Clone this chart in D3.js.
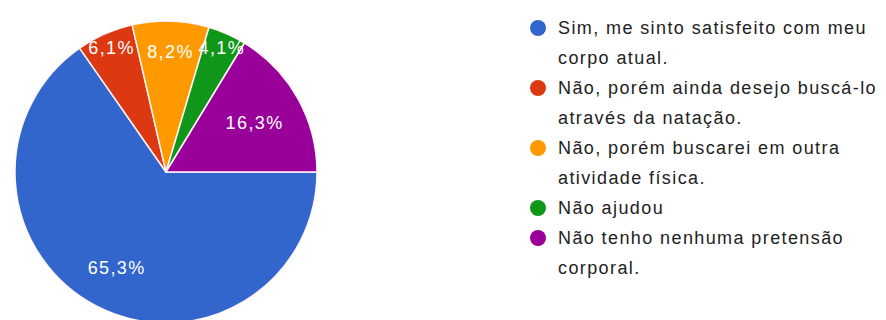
<!DOCTYPE html>
<html>
<head>
<meta charset="utf-8">
<script src="https://cdn.jsdelivr.net/npm/d3@7"></script>
<style>
  html, body { margin: 0; padding: 0; background: #ffffff; }
  svg { display: block; }
</style>
</head>
<body>
<svg id="chart" width="886" height="320"></svg>
<script>
// ---- data ----
const categories = [
  "Sim, me sinto satisfeito com meu\ncorpo atual.",
  "Não, porém ainda desejo buscá-lo\natravés da natação.",
  "Não, porém buscarei em outra\natividade física.",
  "Não ajudou",
  "Não tenho nenhuma pretensão\ncorporal."
];
const values = [65.3, 6.1, 8.2, 4.1, 16.3];
const valueLabels = ["65,3%", "6,1%", "8,2%", "4,1%", "16,3%"];
const colors = ["#3366cc", "#dc3912", "#ff9900", "#109618", "#990099"];

// ---- layout ----
const W = 886, H = 320;
const cx = 166, cy = 172, R = 151;
const font = "Arial, 'Liberation Sans', sans-serif";
const fontSize = 18;
const spacing = 1.4;

const svg = d3.select("#chart");
const color = d3.scaleOrdinal().domain(categories).range(colors);

const pie = d3.pie()
  .sort(null)
  .value(d => d.value)
  .startAngle(Math.PI / 2)
  .endAngle(Math.PI / 2 + 2 * Math.PI);

const data = categories.map((c, i) => ({ cat: c, value: values[i], label: valueLabels[i] }));
const arcs = pie(data);
const arc = d3.arc().innerRadius(0).outerRadius(R);

const g = svg.append("g").attr("transform", `translate(${cx},${cy})`);

g.selectAll("path.slice")
  .data(arcs)
  .enter().append("path")
  .attr("class", "slice")
  .attr("d", arc)
  .attr("fill", d => color(d.data.cat))
  .attr("stroke", "#fff4f8")
  .attr("stroke-width", 1.5)
  .attr("stroke-linejoin", "round");

// value labels
const labels = g.selectAll("text.val")
  .data(arcs)
  .enter().append("text")
  .attr("class", "val")
  .attr("font-family", font)
  .attr("font-size", fontSize)
  .attr("letter-spacing", spacing)
  .attr("fill", "#ffffff")
  .attr("text-anchor", "middle")
  .attr("dominant-baseline", "central")
  .text(d => d.data.label);

labels.each(function(d) {
  const bb = this.getBBox();
  const hw = bb.width / 2, hh = 7;
  const mid = (d.startAngle + d.endAngle) / 2;
  const dx = Math.sin(mid), dy = -Math.cos(mid);
  // place so the far corner of the label box sits at ~0.86R
  const target = 0.86 * R;
  const b = 2 * (Math.abs(dx) * hw + Math.abs(dy) * hh);
  const c = hw * hw + hh * hh - target * target;
  let t = (-b + Math.sqrt(b * b - 4 * c)) / 2;
  // if the label doesn't fit the wedge, push it outward
  const theta = d.endAngle - d.startAngle;
  const chord = 2 * t * Math.sin(theta / 2);
  if (chord < bb.width + 4) t = 0.9 * R;
  d3.select(this).attr("x", dx * t + spacing / 2).attr("y", dy * t);
});

// legend
const legX = 538, legY = 28, lineH = 30, textX = 558;
let row = 0;
const leg = svg.append("g");
data.forEach((d, i) => {
  const lines = d.cat.split("\n");
  const y0 = legY + row * lineH;
  leg.append("circle")
    .attr("cx", legX).attr("cy", y0).attr("r", 8)
    .attr("fill", color(d.cat));
  const t = leg.append("text")
    .attr("font-family", font)
    .attr("font-size", fontSize)
    .attr("letter-spacing", spacing)
    .attr("fill", "#222222");
  lines.forEach((ln, k) => {
    t.append("tspan")
      .attr("x", textX)
      .attr("y", y0 + k * lineH + 6)
      .text(ln);
  });
  row += lines.length;
});
</script>
</body>
</html>
